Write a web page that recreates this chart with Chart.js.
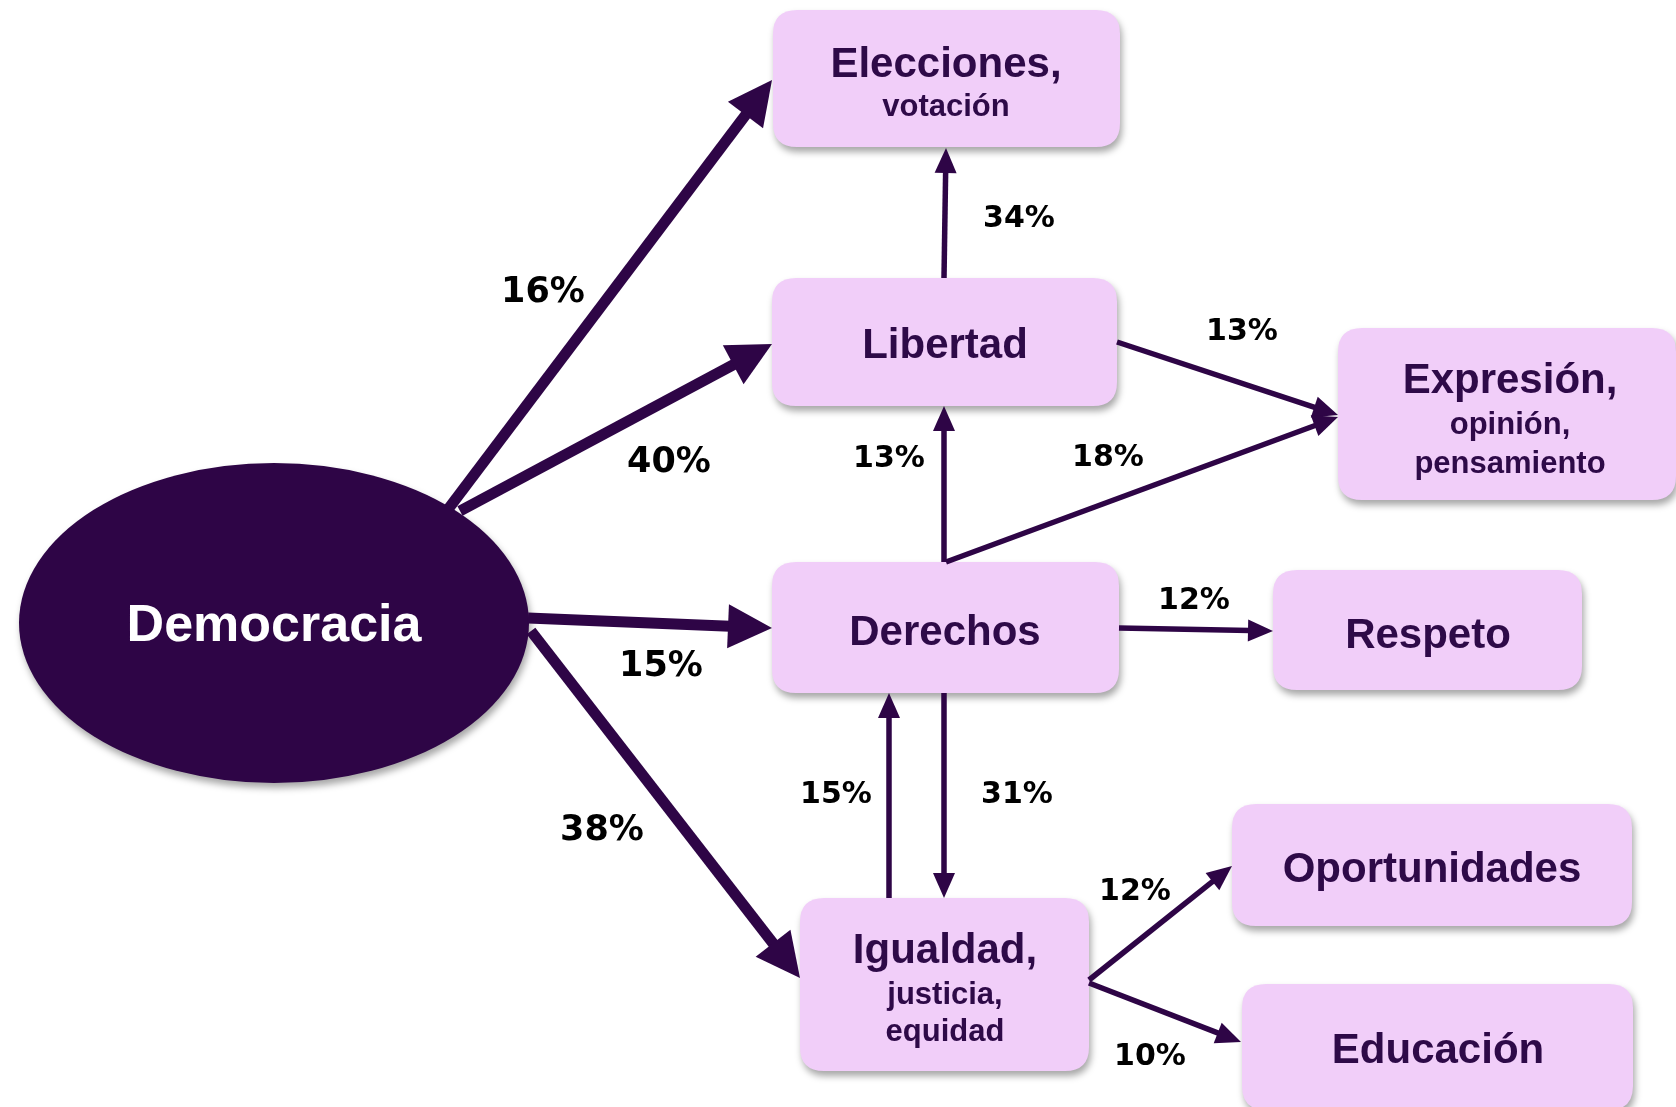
<!DOCTYPE html>
<html>
<head>
<meta charset="utf-8">
<script src="https://cdn.jsdelivr.net/npm/chart.js@4.4.1/dist/chart.umd.min.js"></script>
<style>
    html, body { margin: 0; padding: 0; background: #ffffff; }
    #wrap { width: 1676px; height: 1107px; position: relative; }
</style>
</head>
<body>
<div id="wrap"><canvas id="flowChart"></canvas></div>
<script>
// nodes of the diagram
const nodeTitles = ['Democracia', 'Elecciones,', 'Libertad', 'Expresión,', 'Derechos', 'Respeto', 'Igualdad,', 'Oportunidades', 'Educación'];
const nodeSubtitles = [[], ['votación'], [], ['opinión,', 'pensamiento'], [], [], ['justicia,', 'equidad'], [], []];

// links between nodes (index into nodeTitles) and their percentages
const linkFrom = [0, 0, 0, 0, 2, 2, 4, 4, 4, 6, 4, 6, 6];
const linkTo = [1, 2, 4, 6, 1, 3, 2, 3, 5, 4, 6, 7, 8];
const linkValues = [16, 40, 15, 38, 34, 13, 13, 18, 12, 15, 31, 12, 10];

// layout (in axis units, which map 1:1 to the page)
const nodeBoxes = [
    { cx: 274, cy: 623, rx: 255, ry: 160, ellipse: true },
    { x0: 773, y0: 10, x1: 1120, y1: 147 },
    { x0: 772, y0: 278, x1: 1117, y1: 406 },
    { x0: 1338, y0: 328, x1: 1676, y1: 500 },
    { x0: 772, y0: 562, x1: 1119, y1: 693 },
    { x0: 1273, y0: 570, x1: 1582, y1: 690 },
    { x0: 800, y0: 898, x1: 1089, y1: 1071 },
    { x0: 1232, y0: 804, x1: 1632, y1: 926 },
    { x0: 1242, y0: 984, x1: 1633, y1: 1110 }
];
const nodeTextY = [[627], [65, 107], [346], [381, 425, 464], [633], [636], [951, 995, 1032], [870], [1051]];
const nodeTextX = [274, 946, 945, 1510, 945, 1428, 945, 1432, 1438];

const linkStart = [[449, 508], [460, 511], [528, 618], [531, 631], [944, 278], [1117, 342], [944, 562], [946, 562], [1119, 628], [889, 898], [944, 693], [1089, 980], [1089, 983]];
const linkEnd = [[772, 80], [772, 344], [772, 628], [800, 978], [946, 148], [1338, 415], [944, 406], [1338, 417], [1273, 631], [889, 693], [944, 898], [1232, 866], [1241, 1042]];
const labelPos = [[543, 293], [669, 463], [661, 667], [602, 831], [1019, 219], [1242, 332], [889, 459], [1108, 458], [1194, 601], [836, 795], [1017, 795], [1135, 892], [1150, 1057]];

const darkPurple = '#2E0546';
const boxFill = '#F1CEF9';
const textPurple = '#2E0A48';

function roundRect(ctx, x, y, w, h, r) {
    ctx.beginPath();
    ctx.moveTo(x + r, y);
    ctx.lineTo(x + w - r, y);
    ctx.quadraticCurveTo(x + w, y, x + w, y + r);
    ctx.lineTo(x + w, y + h - r);
    ctx.quadraticCurveTo(x + w, y + h, x + w - r, y + h);
    ctx.lineTo(x + r, y + h);
    ctx.quadraticCurveTo(x, y + h, x, y + h - r);
    ctx.lineTo(x, y + r);
    ctx.quadraticCurveTo(x, y, x + r, y);
    ctx.closePath();
}

const nodesPlugin = {
    id: 'nodes',
    beforeDatasetsDraw(chart) {
        const ctx = chart.ctx;
        const xs = chart.scales.x, ys = chart.scales.y;
        nodeBoxes.forEach((b, i) => {
            ctx.save();
            ctx.shadowColor = 'rgba(0,0,0,0.35)';
            ctx.shadowBlur = 7;
            ctx.shadowOffsetX = 2;
            ctx.shadowOffsetY = 5;
            if (b.ellipse) {
                const cx = xs.getPixelForValue(b.cx), cy = ys.getPixelForValue(b.cy);
                const rx = xs.getPixelForValue(b.cx + b.rx) - cx;
                const ry = ys.getPixelForValue(b.cy + b.ry) - cy;
                ctx.beginPath();
                ctx.ellipse(cx, cy, rx, Math.abs(ry), 0, 0, Math.PI * 2);
                ctx.fillStyle = darkPurple;
                ctx.fill();
            } else {
                const x0 = xs.getPixelForValue(b.x0), x1 = xs.getPixelForValue(b.x1);
                const y0 = ys.getPixelForValue(b.y0), y1 = ys.getPixelForValue(b.y1);
                roundRect(ctx, x0, y0, x1 - x0, y1 - y0, 24);
                ctx.fillStyle = boxFill;
                ctx.fill();
            }
            ctx.restore();

            ctx.save();
            ctx.textAlign = 'center';
            ctx.textBaseline = 'middle';
            const tx = xs.getPixelForValue(nodeTextX[i]);
            if (i === 0) {
                ctx.fillStyle = '#ffffff';
                ctx.font = 'bold 52px "Liberation Sans", Arial, sans-serif';
            } else {
                ctx.fillStyle = textPurple;
                ctx.font = 'bold 42px "Liberation Sans", Arial, sans-serif';
            }
            ctx.fillText(nodeTitles[i], tx, ys.getPixelForValue(nodeTextY[i][0]));
            ctx.font = 'bold 31px "Liberation Sans", Arial, sans-serif';
            nodeSubtitles[i].forEach((s, k) => {
                ctx.fillText(s, tx, ys.getPixelForValue(nodeTextY[i][k + 1]));
            });
            ctx.restore();
        });
    }
};

const arrowsPlugin = {
    id: 'arrows',
    afterDatasetsDraw(chart) {
        const ctx = chart.ctx;
        const xs = chart.scales.x, ys = chart.scales.y;
        linkValues.forEach((v, i) => {
            const pts = chart.getDatasetMeta(i).data;
            const ax = pts[0].x, ay = pts[0].y, bx = pts[1].x, by = pts[1].y;
            const thick = linkFrom[i] === 0;
            const lw = thick ? 11 : 5.5;
            const headLen = thick ? 44 : 25;
            const headHalf = thick ? 22 : 11;
            const len = Math.hypot(bx - ax, by - ay);
            const ux = (bx - ax) / len, uy = (by - ay) / len;
            const baseX = bx - ux * headLen, baseY = by - uy * headLen;

            ctx.save();
            ctx.strokeStyle = darkPurple;
            ctx.fillStyle = darkPurple;
            ctx.lineWidth = lw;
            ctx.lineCap = 'butt';
            ctx.beginPath();
            ctx.moveTo(ax, ay);
            ctx.lineTo(baseX + ux * 2, baseY + uy * 2);
            ctx.stroke();
            ctx.beginPath();
            ctx.moveTo(bx, by);
            ctx.lineTo(baseX - uy * headHalf, baseY + ux * headHalf);
            ctx.lineTo(baseX + uy * headHalf, baseY - ux * headHalf);
            ctx.closePath();
            ctx.fill();

            ctx.fillStyle = '#000000';
            ctx.textAlign = 'center';
            ctx.textBaseline = 'middle';
            ctx.font = 'bold ' + (thick ? 35 : 30) + 'px "DejaVu Sans", sans-serif';
            ctx.fillText(v + '%', xs.getPixelForValue(labelPos[i][0]), ys.getPixelForValue(labelPos[i][1]));
            ctx.restore();
        });
    }
};

const datasets = linkValues.map((v, i) => ({
    label: nodeTitles[linkFrom[i]] + ' → ' + nodeTitles[linkTo[i]],
    data: [
        { x: linkStart[i][0], y: linkStart[i][1] },
        { x: linkEnd[i][0], y: linkEnd[i][1] }
    ],
    showLine: false,
    pointRadius: 0,
    pointHoverRadius: 0
}));

new Chart(document.getElementById('flowChart').getContext('2d'), {
    type: 'scatter',
    data: { datasets: datasets },
    options: {
        responsive: true,
        maintainAspectRatio: false,
        animation: false,
        layout: { padding: 0 },
        scales: {
            x: { type: 'linear', min: 0, max: 1676, display: false },
            y: { type: 'linear', min: 0, max: 1107, reverse: true, display: false }
        },
        plugins: {
            legend: { display: false },
            tooltip: { enabled: false }
        }
    },
    plugins: [nodesPlugin, arrowsPlugin]
});
</script>
</body>
</html>
